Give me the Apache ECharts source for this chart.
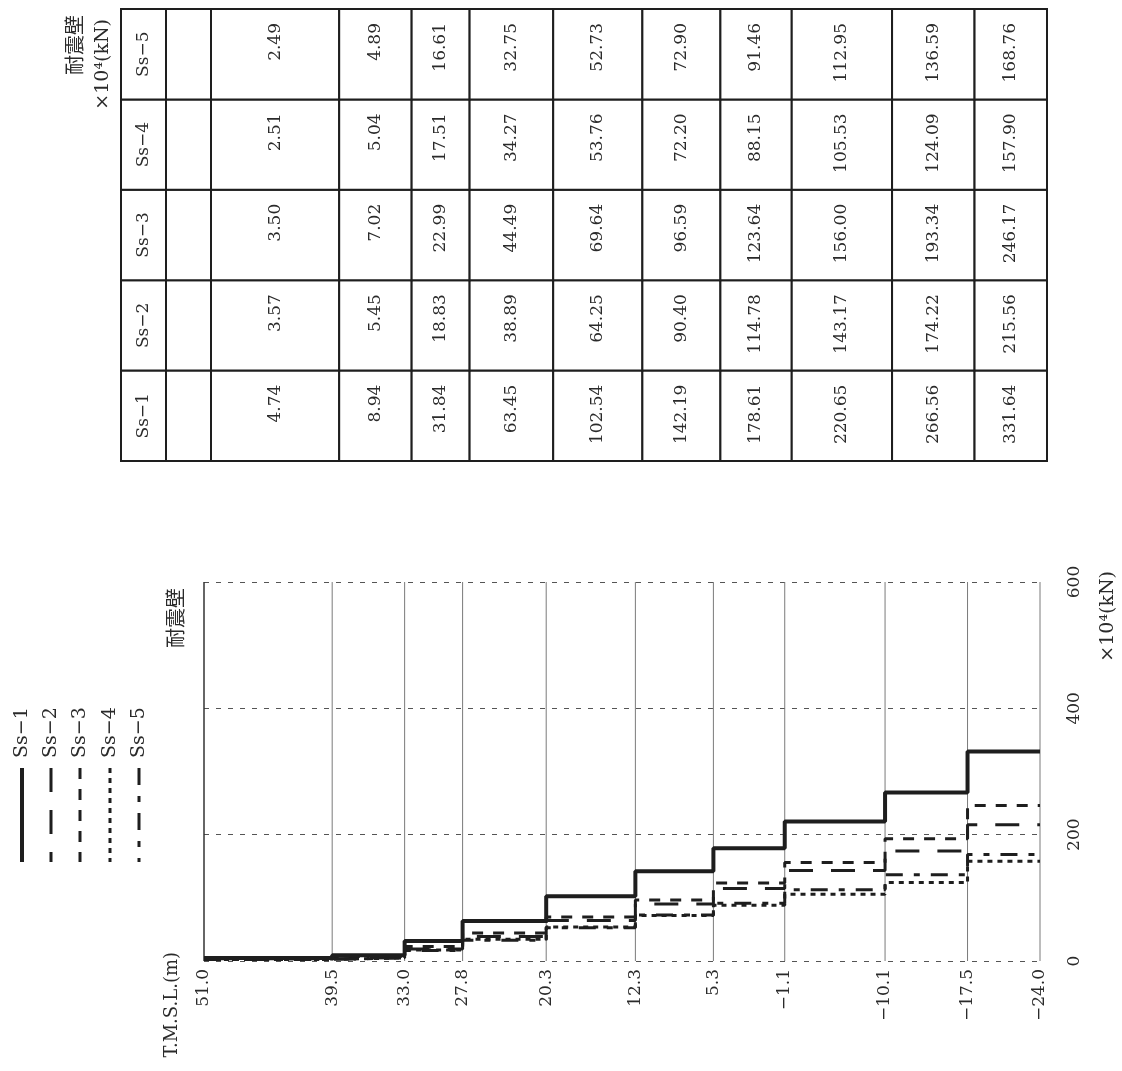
<!DOCTYPE html>
<html>
<head>
<meta charset="utf-8">
<script src="https://cdn.jsdelivr.net/npm/echarts@6/dist/echarts.min.js"></script>
<style>
  html, body { margin: 0; padding: 0; background: #fff; }
  #main { width: 1122px; height: 1071px; }
</style>
</head>
<body>
<div id="main"></div>
<script>
// Segment boundaries of the shear wall, top to bottom (T.M.S.L., m)
const levels = [51.0, 39.5, 33.0, 27.8, 20.3, 12.3, 5.3, -1.1, -10.1, -17.5, -24.0];
const levelLabels = ['51.0', '39.5', '33.0', '27.8', '20.3', '12.3', '5.3', '−1.1', '−10.1', '−17.5', '−24.0'];
const seriesNames = ['Ss−1', 'Ss−2', 'Ss−3', 'Ss−4', 'Ss−5'];

// Shear force in each segment (×10^4 kN), segment order follows `levels`
const ss1 = [4.74, 8.94, 31.84, 63.45, 102.54, 142.19, 178.61, 220.65, 266.56, 331.64];
const ss2 = [3.57, 5.45, 18.83, 38.89, 64.25, 90.40, 114.78, 143.17, 174.22, 215.56];
const ss3 = [3.50, 7.02, 22.99, 44.49, 69.64, 96.59, 123.64, 156.00, 193.34, 246.17];
const ss4 = [2.51, 5.04, 17.51, 34.27, 53.76, 72.20, 88.15, 105.53, 124.09, 157.90];
const ss5 = [2.49, 4.89, 16.61, 32.75, 52.73, 72.90, 91.46, 112.95, 136.59, 168.76];

const valueTicks = [0, 200, 400, 600];

const allSeries = [ss1, ss2, ss3, ss4, ss5];

// ---- styling ----
const SERIF = '"DejaVu Serif", "Liberation Serif", serif';
const CJK = '"Noto Sans CJK JP", sans-serif';
const INK = '#1e1e1e';
const TEXT = '#2a2a2a';
const lineStyles = [
  { width: 4, dash: 'solid' },
  { width: 3, dash: [24, 18] },
  { width: 3, dash: [11, 10] },
  { width: 3, dash: [5, 5] },
  { width: 3, dash: [17, 11, 6, 11] }
];
const HEAD_W = 45;       // width of the two header columns of the table
const VALUE_PAD = 14;    // gap between a cell's upper edge and the end of its value

// Horizontal run for every segment, joined by vertical risers
function stepPoints(vals) {
  const pts = [];
  vals.forEach((v, i) => {
    pts.push([levels[i], v]);
    pts.push([levels[i + 1], v]);
  });
  return pts;
}

const chart = echarts.init(document.getElementById('main'), null, { renderer: 'canvas' });

const lineSeries = allSeries.map((vals, j) => ({
  name: seriesNames[j],
  type: 'line',
  xAxisIndex: 0,
  yAxisIndex: 0,
  data: stepPoints(vals),
  symbol: 'none',
  silent: true,
  z: 10 - j,
  lineStyle: { color: INK, width: lineStyles[j].width, type: lineStyles[j].dash, cap: 'butt' }
}));

// vertical rules at each boundary level
const levelRules = {
  type: 'custom',
  xAxisIndex: 0,
  yAxisIndex: 0,
  silent: true,
  z: 1,
  data: levels.map((l, i) => [l, i]),
  renderItem(params, api) {
    const i = params.dataIndex;
    const p0 = api.coord([api.value(0), valueTicks[0]]);
    const p1 = api.coord([api.value(0), valueTicks[valueTicks.length - 1]]);
    return {
      type: 'line',
      shape: { x1: p0[0], y1: p0[1], x2: p1[0], y2: p1[1] },
      style: { stroke: i === 0 ? '#333' : '#7a7a7a', lineWidth: i === 0 ? 1.5 : 1 }
    };
  }
};

// table cells: one row per earthquake case, one column per wall segment
const tableData = [];
allSeries.forEach((vals, j) => {
  tableData.push([levels[0], j, -2]);
  tableData.push([levels[0], j, -1]);
  vals.forEach((v, i) => tableData.push([levels[i], j, i]));
});

const tableSeries = {
  type: 'custom',
  xAxisIndex: 1,
  yAxisIndex: 1,
  silent: true,
  z: 5,
  data: tableData,
  renderItem(params, api) {
    const row = api.value(1);
    const seg = api.value(2);
    const bandH = api.size([0, 1])[1];
    const cy = api.coord([levels[0], row])[1];
    const top = cy - bandH / 2;
    const xStart = api.coord([levels[0], row])[0];
    let x0, x1, text = '', centered = false;
    if (seg >= 0) {
      x0 = api.coord([levels[seg], row])[0];
      x1 = api.coord([levels[seg + 1], row])[0];
      text = allSeries[row][seg].toFixed(2);
    } else if (seg === -1) {
      x1 = xStart; x0 = xStart - HEAD_W;
    } else {
      x1 = xStart - HEAD_W; x0 = xStart - 2 * HEAD_W;
      text = seriesNames[row];
      centered = true;
    }
    const children = [{
      type: 'rect',
      shape: { x: x0, y: top, width: x1 - x0, height: bandH },
      style: { fill: '#fff', stroke: INK, lineWidth: 2 }
    }];
    if (text) {
      children.push({
        type: 'text',
        x: (x0 + x1) / 2,
        y: centered ? cy : top + VALUE_PAD,
        rotation: Math.PI / 2,
        style: {
          text: text,
          fontFamily: SERIF,
          fontSize: 17,
          fill: TEXT,
          align: centered ? 'center' : 'right',
          verticalAlign: 'middle'
        }
      });
    }
    return { type: 'group', children: children };
  }
};

// legend samples and free labels
const legendX = [22, 51, 80, 110, 139];
const graphics = [];
seriesNames.forEach((name, j) => {
  graphics.push({
    type: 'line',
    silent: true,
    shape: { x1: legendX[j], y1: 768, x2: legendX[j], y2: 862 },
    style: {
      stroke: INK,
      lineWidth: lineStyles[j].width,
      lineDash: lineStyles[j].dash === 'solid' ? null : lineStyles[j].dash
    }
  });
  graphics.push({
    type: 'text',
    silent: true,
    x: legendX[j],
    y: 758,
    rotation: Math.PI / 2,
    style: { text: name, fontFamily: SERIF, fontSize: 19, fill: TEXT, align: 'left', verticalAlign: 'middle' }
  });
});

function vText(text, x, y, font, size) {
  return {
    type: 'text',
    silent: true,
    x: x,
    y: y,
    rotation: Math.PI / 2,
    style: { text: text, fontFamily: font, fontSize: size, fill: TEXT, align: 'right', verticalAlign: 'middle' }
  };
}
graphics.push(vText('耐震壁', 74, 15, CJK, 20));
graphics.push(vText('×10⁴(kN)', 103, 19, SERIF, 19));
graphics.push(vText('耐震壁', 175, 588, CJK, 20));
graphics.push(vText('T.M.S.L.(m)', 172, 952, SERIF, 18));
graphics.push(vText('×10⁴(kN)', 1108, 571, SERIF, 19));

chart.setOption({
  animation: false,
  backgroundColor: '#fff',
  grid: [
    { left: 204, right: 82, top: 582, bottom: 110 },
    { left: 211, right: 75, top: 9, bottom: 610 }
  ],
  xAxis: [
    {
      type: 'value',
      gridIndex: 0,
      min: levels[levels.length - 1],
      max: levels[0],
      inverse: true,
      axisLine: { show: false },
      axisTick: { show: false },
      splitLine: { show: false },
      axisLabel: {
        customValues: levels,
        rotate: 90,
        margin: 8,
        fontFamily: SERIF,
        fontSize: 17,
        color: TEXT,
        formatter: (v) => {
          const k = levels.indexOf(v);
          return k >= 0 ? levelLabels[k] : '';
        }
      }
    },
    {
      type: 'value',
      gridIndex: 1,
      min: levels[levels.length - 1],
      max: levels[0],
      inverse: true,
      show: false
    }
  ],
  yAxis: [
    {
      type: 'value',
      gridIndex: 0,
      position: 'right',
      min: valueTicks[0],
      max: valueTicks[valueTicks.length - 1],
      interval: valueTicks[1] - valueTicks[0],
      axisLine: { show: false },
      axisTick: { show: false },
      axisLabel: {
        rotate: 90,
        margin: 26,
        fontFamily: SERIF,
        fontSize: 17,
        color: TEXT
      },
      splitLine: { show: true, lineStyle: { color: '#555', width: 1, type: [5, 7] } }
    },
    {
      type: 'category',
      gridIndex: 1,
      data: seriesNames,
      show: false
    }
  ],
  graphic: graphics,
  series: [levelRules].concat(lineSeries, [tableSeries])
});
</script>
</body>
</html>
